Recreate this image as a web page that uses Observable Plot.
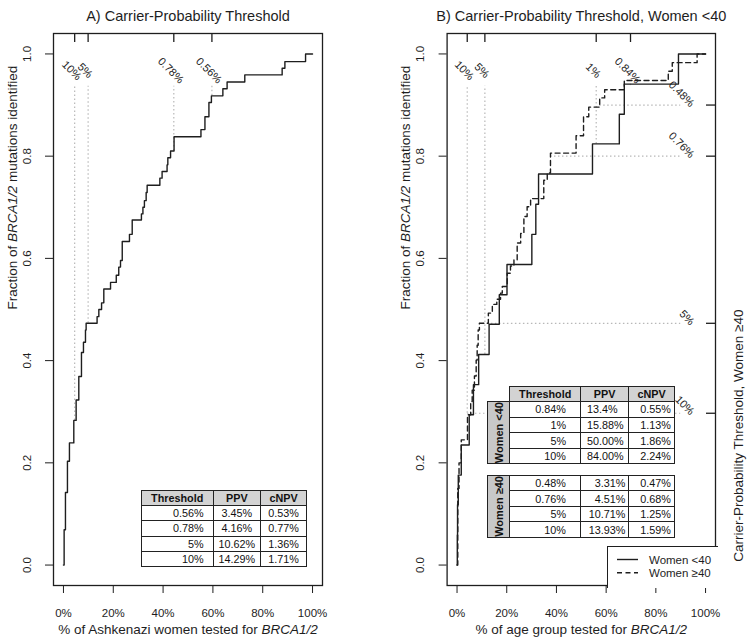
<!DOCTYPE html>
<html><head><meta charset="utf-8">
<script src="https://cdn.jsdelivr.net/npm/d3@7"></script>
<script src="https://cdn.jsdelivr.net/npm/@observablehq/plot@0.6"></script>
<style>
body{margin:0;background:#fff;font-family:"Liberation Sans",Arial,Helvetica,sans-serif;color:#1e1e1e;}
#wrap{position:relative;width:750px;height:642px;overflow:hidden;background:#fff;}
.panel{position:absolute;top:0;}
table.t{position:absolute;border-collapse:collapse;table-layout:fixed;font-size:10.8px;color:#111;background:#fff;}
table.t td{border:1.5px solid #222;padding:0;line-height:14.2px;white-space:nowrap;overflow:hidden;}
table.t td.h{background:#d3d3d3;font-weight:bold;text-align:center;}
table.t td.e{border:none;background:transparent;}
table.t td.rl{background:#c8c8c8;font-weight:bold;text-align:center;vertical-align:middle;font-size:11px;}
table.t td.rl div{writing-mode:vertical-rl;transform:rotate(180deg);margin:0 auto;line-height:20px;}
.legend{position:absolute;left:606.7px;top:546px;width:110px;height:41px;border-left:1.3px solid #1e1e1e;border-top:1.3px solid #1e1e1e;background:#fff;}
</style>
</head><body>
<div id="wrap">
  <div id="pA" class="panel" style="left:0"></div>
  <div id="pB" class="panel" style="left:375px"></div>
</div>
<script>
// ---------- data ----------
const xTicks = [0, 20, 40, 60, 80, 100];
const yTicks = [0, 0.2, 0.4, 0.6, 0.8, 1.0];

// Panel A: all Ashkenazi women
const curveA_x = [0,0.27,0.8,1.6,2.4,4.15,5.09,6.16,7.23,8.03,8.84,9.1,13.5,14.2,15.3,16.2,18.9,21.2,22.2,22.9,23.6,26.5,27.6,31.3,31.9,32.5,33.2,33.6,38.7,39.6,41.6,41.9,43.0,44.4,55.2,56.8,58.4,59.4,64.0,65.7,72.8,87.8,88.9,97.2,100];
const curveA_y = [0,0.069,0.142,0.203,0.239,0.283,0.323,0.369,0.416,0.436,0.460,0.473,0.486,0.500,0.513,0.540,0.553,0.567,0.583,0.596,0.633,0.647,0.675,0.687,0.700,0.713,0.729,0.743,0.757,0.770,0.783,0.797,0.810,0.838,0.852,0.877,0.905,0.918,0.932,0.945,0.959,0.972,0.985,1.0,1.0];

const threshA_label = ["10%", "5%", "0.78%", "0.56%"];
const threshA_x = [4.5, 9.9, 44.3, 59.6];
const threshA_yEnd = [0.283, 0.473, 0.810, 0.918];

// Panel B: women <40 (solid) and >=40 (dashed)
const curveLt40_x = [0,0.1,0.2,0.5,1.7,4.9,6.6,8.7,12.9,17.0,20.1,30.1,31.7,32.8,54.5,65.3,67.3,89.1,100];
const curveLt40_y = [0,0.059,0.118,0.176,0.235,0.294,0.353,0.412,0.471,0.529,0.588,0.647,0.706,0.765,0.824,0.882,0.941,1.0,1.0];
const curveGe40_x = [0,0.3,0.8,1.7,4.2,5.5,6.1,7.0,7.7,8.1,8.5,9.0,12.6,14.2,16.0,17.5,18.2,20.2,21.5,22.9,24.2,25.6,26.9,28.2,29.6,34.9,36.3,37.6,47.9,50.9,53.0,57.4,59.4,67.3,85.0,86.6,96.6,100];
const curveGe40_y = [0,0.15,0.2,0.245,0.294,0.32,0.342,0.37,0.401,0.43,0.46,0.473,0.493,0.51,0.52,0.532,0.545,0.571,0.585,0.597,0.630,0.649,0.682,0.701,0.717,0.753,0.767,0.806,0.840,0.877,0.896,0.914,0.930,0.948,0.966,0.983,1.0,1.0];

const threshB_label = ["10%", "5%", "1%", "0.84%"];
const threshB_x = [4.1, 11.2, 56.0, 69.8];
const threshB_yEnd = [0.297, 0.412, 0.824, 0.941];

const threshB2_label = ["0.48%", "0.76%", "5%", "10%"];
const threshB2_y = [0.9, 0.8, 0.473, 0.297];
const threshB2_xEnd = [57.4, 37.6, 9.0, 4.2];

// Tables
const tableHeader = ["Threshold", "PPV", "cNPV"];
const tableA_threshold = ["0.56%", "0.78%", "5%", "10%"];
const tableA_ppv = ["3.45%", "4.16%", "10.62%", "14.29%"];
const tableA_cnpv = ["0.53%", "0.77%", "1.36%", "1.71%"];
const tableLt40_threshold = ["0.84%", "1%", "5%", "10%"];
const tableLt40_ppv = ["13.4%", "15.88%", "50.00%", "84.00%"];
const tableLt40_cnpv = ["0.55%", "1.13%", "1.86%", "2.24%"];
const tableGe40_threshold = ["0.48%", "0.76%", "5%", "10%"];
const tableGe40_ppv = ["3.31%", "4.51%", "10.71%", "13.93%"];
const tableGe40_cnpv = ["0.47%", "0.68%", "1.25%", "1.59%"];
const groupLabels = ["Women <40", "Women ≥40"];
const legendLabels = ["Women <40", "Women ≥40"];

// ---------- helpers ----------
const fam = '"Liberation Sans", Arial, Helvetica, sans-serif';
const ink = "#1e1e1e";
const dotCol = "#b8b8b8";
const DOT_TOP = 0.937;
const DOT_RIGHT = 90;
const X_DOM = [-4, 104], Y_DOM = [-0.04, 1.04];
const TICK_IN = 9; // inner tick length (px)
const style = {fontFamily: fam, fontSize: "11.5px", color: ink, background: "transparent", overflow: "visible"};

function italicize(svg) {
  svg.querySelectorAll("text").forEach(t => {
    const s = t.textContent; const i = s.indexOf("BRCA1/2");
    if (i < 0 || t.querySelector("tspan")) return;
    t.textContent = "";
    const mk = (str, it) => { if (!str) return; const ts = document.createElementNS("http://www.w3.org/2000/svg", "tspan"); ts.textContent = str; if (it) ts.setAttribute("font-style", "italic"); t.appendChild(ts); };
    mk(s.slice(0, i)); mk("BRCA1/2", true); mk(s.slice(i + 7));
  });
}

const curveA = curveA_x.map((x, i) => ({x, y: curveA_y[i]}));
const tA = threshA_x.map((x, i) => ({x, y: threshA_yEnd[i], label: threshA_label[i]}));
const cLt = curveLt40_x.map((x, i) => ({x, y: curveLt40_y[i]}));
const cGe = curveGe40_x.map((x, i) => ({x, y: curveGe40_y[i]}));
const tB = threshB_x.map((x, i) => ({x, y: threshB_yEnd[i], label: threshB_label[i]}));
const tB2 = threshB2_y.map((y, i) => ({y, x: threshB2_xEnd[i], label: threshB2_label[i]}));

const commonAxes = () => [
  Plot.axisX({ticks: xTicks, tickFormat: d => d + "%", tickSize: 8, tickPadding: 15, fontSize: 11.5, label: null}),
  Plot.axisY({ticks: yTicks, tickFormat: d3.format(".1f"), tickSize: 8, tickPadding: 15, tickRotate: -90, fontSize: 11.5, label: null})
];

// inner tick length converted to data units of each plot frame
const A_H = 642 - 33 - 57;
const yTickLen = TICK_IN / A_H * (Y_DOM[1] - Y_DOM[0]);

// ---------- Panel A ----------
const plotA = Plot.plot({
  width: 375, height: 642, marginLeft: 53, marginRight: 53, marginTop: 33, marginBottom: 57,
  style,
  x: {domain: X_DOM, axis: null},
  y: {domain: Y_DOM, axis: null},
  marks: [
    Plot.ruleX(tA, {x: "x", y1: "y", y2: DOT_TOP, stroke: dotCol, strokeWidth: 1.2, strokeDasharray: "1.5,2.5"}),
    Plot.line(curveA, {x: "x", y: "y", curve: "step-after", stroke: ink, strokeWidth: 1.4}),
    Plot.frame({stroke: ink, strokeWidth: 1.3}),
    ...commonAxes(),
    Plot.ruleX(tA, {x: "x", y1: Y_DOM[1], y2: Y_DOM[1] - yTickLen, stroke: ink, strokeWidth: 1.3}),
    Plot.text(tA, {x: "x", text: "label", frameAnchor: "top", dy: 34, rotate: 45, fontSize: 11}),
    Plot.text(["A) Carrier-Probability Threshold"], {text: d => d, frameAnchor: "top", dy: -23, fontSize: 14.5}),
    Plot.text(["Fraction of BRCA1/2 mutations identified"], {text: d => d, frameAnchor: "left", dx: -41, rotate: -90, fontSize: 13.5}),
    Plot.text(["% of Ashkenazi women tested for BRCA1/2"], {text: d => d, frameAnchor: "bottom", dy: 48, fontSize: 13.5})
  ]
});
italicize(plotA);
document.getElementById("pA").appendChild(plotA);

// ---------- Panel B ----------
const B_W = 375 - 71.6 - 35;
const xTickLen = TICK_IN / B_W * (X_DOM[1] - X_DOM[0]);
const plotB = Plot.plot({
  width: 375, height: 642, marginLeft: 71.6, marginRight: 35, marginTop: 33, marginBottom: 57,
  style,
  x: {domain: X_DOM, axis: null},
  y: {domain: Y_DOM, axis: null},
  marks: [
    Plot.ruleX(tB, {x: "x", y1: "y", y2: DOT_TOP, stroke: dotCol, strokeWidth: 1.2, strokeDasharray: "1.5,2.5"}),
    Plot.ruleY(tB2, {y: "y", x1: "x", x2: DOT_RIGHT, stroke: dotCol, strokeWidth: 1.2, strokeDasharray: "1.5,2.5"}),
    Plot.line(cGe, {x: "x", y: "y", curve: "step-after", stroke: ink, strokeWidth: 1.4, strokeDasharray: "5,3.5"}),
    Plot.line(cLt, {x: "x", y: "y", curve: "step-after", stroke: ink, strokeWidth: 1.4}),
    Plot.frame({stroke: ink, strokeWidth: 1.3}),
    ...commonAxes(),
    Plot.ruleX(tB, {x: "x", y1: Y_DOM[1], y2: Y_DOM[1] - yTickLen, stroke: ink, strokeWidth: 1.3}),
    Plot.ruleY(tB2, {y: "y", x1: X_DOM[1], x2: X_DOM[1] - xTickLen, stroke: ink, strokeWidth: 1.3}),
    Plot.text(tB, {x: "x", text: "label", frameAnchor: "top", dy: 34, rotate: 45, fontSize: 11}),
    Plot.text(tB2, {y: "y", text: "label", frameAnchor: "right", dx: -23, rotate: 45, fontSize: 11}),
    Plot.text(["B) Carrier-Probability Threshold, Women <40"], {text: d => d, frameAnchor: "top", dy: -23, fontSize: 14.5}),
    Plot.text(["Fraction of BRCA1/2 mutations identified"], {text: d => d, frameAnchor: "left", dx: -41.5, rotate: -90, fontSize: 13.5}),
    Plot.text(["% of age group tested for BRCA1/2"], {text: d => d, frameAnchor: "bottom", dy: 48, fontSize: 13.5}),
    Plot.text(["Carrier-Probability Threshold, Women ≥40"], {text: d => d, frameAnchor: "right", dx: 23, rotate: -90, fontSize: 13.5})
  ]
});
italicize(plotB);
document.getElementById("pB").appendChild(plotB);

// ---------- Tables ----------
const wrap = document.getElementById("wrap");
function cell(txt, cls, style) { const td = document.createElement("td"); if (cls) td.className = cls; td.textContent = txt; if (style) td.setAttribute("style", style); return td; }

function makeTable(left, top, widths) {
  const t = document.createElement("table"); t.className = "t";
  t.style.left = left + "px"; t.style.top = top + "px";
  const cg = document.createElement("colgroup");
  widths.forEach(w => { const c = document.createElement("col"); c.style.width = w + "px"; cg.appendChild(c); });
  t.appendChild(cg);
  t.style.width = widths.reduce((a, b) => a + b, 0) + "px";
  wrap.appendChild(t); return t;
}

// Table A
{
  const t = makeTable(140.7, 490, [72, 47.3, 46]);
  const hr = document.createElement("tr"); tableHeader.forEach(h => hr.appendChild(cell(h, "h"))); t.appendChild(hr);
  tableA_threshold.forEach((th, i) => {
    const tr = document.createElement("tr");
    tr.appendChild(cell(th, "", "text-align:right;padding-right:9px"));
    tr.appendChild(cell(tableA_ppv[i], "", "text-align:center"));
    tr.appendChild(cell(tableA_cnpv[i], "", "text-align:right;padding-right:7px"));
    t.appendChild(tr);
  });
}
// Table B group 1 (with header)
{
  const t = makeTable(487.3, 386, [22, 70.7, 48.3, 45.7]);
  const hr = document.createElement("tr"); hr.appendChild(cell("", "e")); tableHeader.forEach(h => hr.appendChild(cell(h, "h"))); t.appendChild(hr);
  tableLt40_threshold.forEach((th, i) => {
    const tr = document.createElement("tr");
    if (i === 0) { const td = document.createElement("td"); td.className = "rl"; td.rowSpan = 4; const d = document.createElement("div"); d.textContent = groupLabels[0]; td.appendChild(d); tr.appendChild(td); }
    tr.appendChild(cell(th, "", "text-align:right;padding-right:14px"));
    tr.appendChild(cell(tableLt40_ppv[i], "", "text-align:left;padding-left:6px"));
    tr.appendChild(cell(tableLt40_cnpv[i], "", "text-align:right;padding-right:3px"));
    t.appendChild(tr);
  });
}
// Table B group 2
{
  const t = makeTable(487.3, 475, [22, 70.7, 48.3, 45.7]);
  tableGe40_threshold.forEach((th, i) => {
    const tr = document.createElement("tr");
    if (i === 0) { const td = document.createElement("td"); td.className = "rl"; td.rowSpan = 4; const d = document.createElement("div"); d.textContent = groupLabels[1]; td.appendChild(d); tr.appendChild(td); }
    tr.appendChild(cell(th, "", "text-align:right;padding-right:14px"));
    tr.appendChild(cell(tableGe40_ppv[i], "", "text-align:right;padding-right:3px"));
    tr.appendChild(cell(tableGe40_cnpv[i], "", "text-align:right;padding-right:3px"));
    t.appendChild(tr);
  });
}

// ---------- Legend ----------
{
  const lg = document.createElement("div"); lg.className = "legend";
  const ns = "http://www.w3.org/2000/svg";
  const svg = document.createElementNS(ns, "svg"); svg.setAttribute("width", 110); svg.setAttribute("height", 41);
  legendLabels.forEach((lab, i) => {
    const yy = 12.5 + i * 13.3;
    const ln = document.createElementNS(ns, "line");
    ln.setAttribute("x1", 9); ln.setAttribute("x2", 30); ln.setAttribute("y1", yy); ln.setAttribute("y2", yy);
    ln.setAttribute("stroke", ink); ln.setAttribute("stroke-width", 1.4);
    if (i === 1) ln.setAttribute("stroke-dasharray", "5,3.5");
    svg.appendChild(ln);
    const tx = document.createElementNS(ns, "text");
    tx.setAttribute("x", 41); tx.setAttribute("y", yy); tx.setAttribute("dy", "0.36em");
    tx.setAttribute("font-size", "11.5"); tx.setAttribute("font-family", fam); tx.setAttribute("fill", ink);
    tx.textContent = lab; svg.appendChild(tx);
  });
  lg.appendChild(svg); wrap.appendChild(lg);
}
</script>
</body></html>
